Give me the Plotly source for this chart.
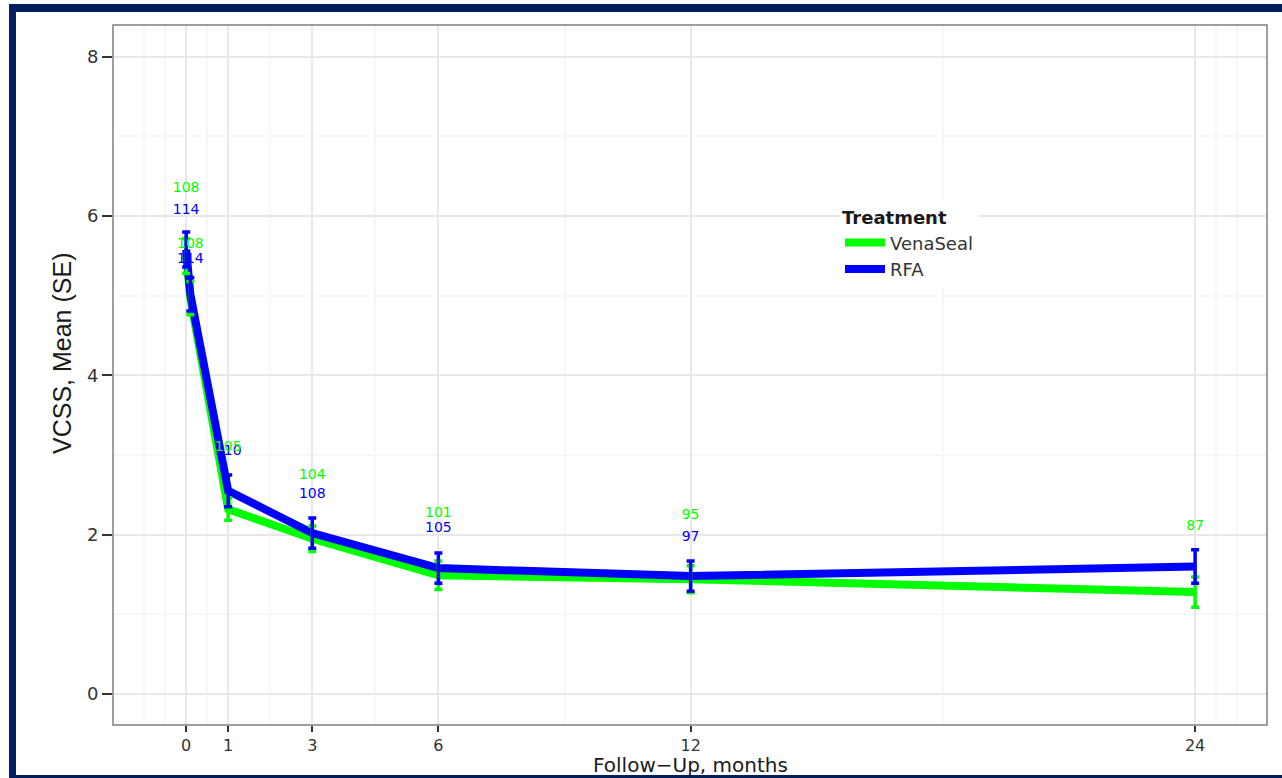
import plotly.graph_objects as go

# ---------------- data ----------------
months = [0, 0.1, 1, 3, 6, 12, 24]
tick_months = [0, 1, 3, 6, 12, 24]
minor_months = [-1, -0.5, 0.5, 2, 4.5, 9, 18, 24.5, 25]

venaseal_mean = [5.50, 4.97, 2.32, 1.95, 1.49, 1.44, 1.28]
venaseal_se = [0.22, 0.21, 0.14, 0.16, 0.18, 0.17, 0.19]
rfa_mean = [5.58, 5.02, 2.55, 2.02, 1.58, 1.48, 1.60]
rfa_se = [0.22, 0.21, 0.20, 0.19, 0.19, 0.19, 0.21]

venaseal_n = ["108", "108", "105", "104", "101", "95", "87"]
rfa_n = ["114", "114", "110", "108", "105", "97", ""]
venaseal_n_height = [6.35, 5.65, 3.10, 2.74, 2.27, 2.24, 2.10]
rfa_n_height = [6.07, 5.46, 3.04, 2.51, 2.08, 1.97, 2.10]

GREEN = "#00FF00"
BLUE = "#0000FF"
NAVY = "#001F5F"

W, H = 1282, 778
L, R, T, B = 113, 15, 25, 53
PW, PH = W - L - R, H - T - B


def px(x):
    return (x - L) / PW


def py(y):
    return (H - B - y) / PH


fig = go.Figure()

# lines
fig.add_trace(go.Scatter(x=months, y=venaseal_mean, mode="lines", name="VenaSeal",
                         line=dict(color=GREEN, width=8)))
fig.add_trace(go.Scatter(x=months, y=rfa_mean, mode="lines", name="RFA",
                         line=dict(color=BLUE, width=8)))
# error bars
fig.add_trace(go.Scatter(x=months, y=venaseal_mean, mode="markers", showlegend=False,
                         marker=dict(size=1, opacity=0),
                         error_y=dict(type="data", array=venaseal_se, color=GREEN,
                                      thickness=3.5, width=4)))
fig.add_trace(go.Scatter(x=months, y=rfa_mean, mode="markers", showlegend=False,
                         marker=dict(size=1, opacity=0),
                         error_y=dict(type="data", array=rfa_se, color=BLUE,
                                      thickness=3.5, width=4)))
# n labels
fig.add_trace(go.Scatter(x=months, y=rfa_n_height, mode="text", text=rfa_n, showlegend=False,
                         textfont=dict(color=BLUE, size=14, family="DejaVu Sans")))
fig.add_trace(go.Scatter(x=months, y=venaseal_n_height, mode="text", text=venaseal_n,
                         showlegend=False,
                         textfont=dict(color=GREEN, size=14, family="DejaVu Sans")))

shapes = [
    # navy frame
    dict(type="rect", xref="paper", yref="paper", x0=px(9), x1=px(W), y0=py(4), y1=py(12),
         fillcolor=NAVY, line=dict(width=0), layer="above"),
    dict(type="rect", xref="paper", yref="paper", x0=px(9), x1=px(16), y0=py(4), y1=py(H),
         fillcolor=NAVY, line=dict(width=0), layer="above"),
    dict(type="rect", xref="paper", yref="paper", x0=px(9), x1=px(W), y0=py(775), y1=py(H),
         fillcolor=NAVY, line=dict(width=0), layer="above"),
    # panel border
    dict(type="rect", xref="paper", yref="paper", x0=0, x1=1, y0=0, y1=1,
         line=dict(color="#7F7F7F", width=1.5), layer="above"),
]

annotations = [
    dict(text="VCSS, Mean (SE)", textangle=-90, xref="paper", yref="paper",
         x=px(62), y=py(354), xanchor="center", yanchor="middle", showarrow=False,
         font=dict(size=25, color="#1a1a1a", family="Liberation Sans")),
    dict(text="Follow\u2212Up, months", xref="paper", yref="paper",
         x=px(690), y=py(765), xanchor="center", yanchor="middle", showarrow=False,
         font=dict(size=20, color="#1a1a1a", family="DejaVu Sans")),
]

fig.update_layout(
    width=W, height=H,
    margin=dict(l=L, r=R, t=T, b=B, autoexpand=False),
    paper_bgcolor="white", plot_bgcolor="white",
    font=dict(family="DejaVu Sans", color="#333333"),
    shapes=shapes,
    annotations=annotations,
    showlegend=True,
    legend=dict(
        title=dict(text="<b>Treatment</b>", font=dict(size=18, color="#1a1a1a")),
        font=dict(size=18, color="#333333"),
        x=px(840), y=py(201), xanchor="left", yanchor="top",
        bgcolor="white", borderwidth=0,
        itemwidth=40,
        tracegroupgap=2,
    ),
    xaxis=dict(
        range=[-1.74, 25.71], automargin=False,
        tickmode="array", tickvals=tick_months, ticktext=[str(t) for t in tick_months],
        showgrid=True, gridcolor="#E8E8E8", gridwidth=1.5,
        minor=dict(tickmode="array", tickvals=minor_months, showgrid=True,
                   gridcolor="#F7F7F7", gridwidth=1.5, ticks=""),
        ticks="outside", ticklen=6, tickwidth=1.5, tickcolor="#333333",
        tickfont=dict(size=16, color="#333333"),
        zeroline=False, showline=False,
    ),
    yaxis=dict(
        range=[-0.39, 8.40], automargin=False,
        tickmode="array", tickvals=[0, 2, 4, 6, 8],
        showgrid=True, gridcolor="#E8E8E8", gridwidth=1.5,
        minor=dict(tickmode="array", tickvals=[1, 3, 5, 7], showgrid=True,
                   gridcolor="#F7F7F7", gridwidth=1.5, ticks=""),
        ticks="outside", ticklen=10, tickwidth=1.5, tickcolor="#333333",
        tickfont=dict(size=18, color="#333333"),
        zeroline=False, showline=False,
    ),
)

fig.write_html("out.html")
